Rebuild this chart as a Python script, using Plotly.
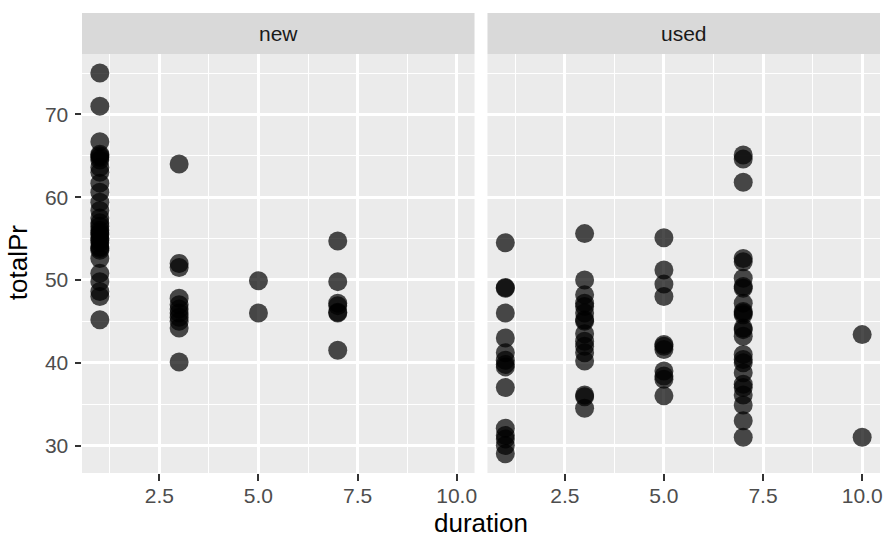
import plotly.graph_objects as go

# ---- data ----
conditions = ["new", "used"]
durations = [1, 3, 5, 7, 10]

new_d1 = [75.0, 71.0, 66.7, 65.2, 65.0, 64.8, 64.5, 63.6, 63.0, 61.7, 60.6, 59.4, 58.4,
          57.5, 56.9, 56.5, 56.0, 55.7, 55.5, 55.0, 54.8, 54.5, 54.0, 53.8, 53.6, 52.6,
          50.8, 49.8, 48.6, 48.0, 45.2]
new_d3 = [64.0, 52.0, 51.5, 47.8, 47.0, 46.5, 46.0, 45.5, 45.0, 44.2, 40.1]
new_d5 = [49.9, 46.0]
new_d7 = [54.7, 49.8, 47.2, 46.9, 46.1, 46.0, 41.5]
new_d10 = []

used_d1 = [54.5, 49.0, 49.1, 46.0, 43.0, 41.2, 40.3, 39.8, 39.5, 37.0, 32.1, 31.2, 30.8,
           30.0, 29.0]
used_d3 = [55.6, 50.0, 48.2, 47.2, 46.8, 46.0, 45.2, 45.0, 43.5, 42.6, 42.0, 41.2, 40.2,
           36.1, 35.9, 34.5]
used_d5 = [55.1, 51.2, 49.5, 48.0, 42.2, 42.0, 41.6, 39.0, 38.4, 38.0, 36.0]
used_d7 = [65.1, 64.6, 61.8, 52.6, 52.2, 50.2, 49.2, 49.0, 47.2, 46.2, 46.0, 45.8, 44.2,
           44.0, 43.2, 41.0, 40.4, 40.0, 38.8, 37.4, 37.0, 36.1, 34.9, 33.0, 31.0]
used_d10 = [43.4, 31.0]

x_ticks = [2.5, 5.0, 7.5, 10.0]
x_tick_labels = ["2.5", "5.0", "7.5", "10.0"]
y_ticks = [30, 40, 50, 60, 70]

groups = {
    "new": [new_d1, new_d3, new_d5, new_d7, new_d10],
    "used": [used_d1, used_d3, used_d5, used_d7, used_d10],
}

# ---- figure ----
W, H = 886, 537
ml, mt, mb = 82, 54, 64
panel_w = 394
gap = 13
mr = W - ml - 2 * panel_w - gap
pw = W - ml - mr
ph = H - mt - mb
d1 = [0, panel_w / pw]
d2 = [(panel_w + gap) / pw, 1]
FONT = "Liberation Sans, Arial, sans-serif"

fig = go.Figure()
for i, cond in enumerate(conditions):
    xs, ys = [], []
    for d, vals in zip(durations, groups[cond]):
        xs += [d] * len(vals)
        ys += vals
    fig.add_trace(go.Scatter(
        x=xs, y=ys, mode="markers",
        xaxis="x" if i == 0 else "x2", yaxis="y" if i == 0 else "y2",
        marker=dict(color="black", opacity=0.7, size=19, line=dict(width=0)),
        showlegend=False, hoverinfo="x+y",
    ))

tickfont = dict(family=FONT, size=21, color="#4D4D4D")
xr = [0.55, 10.45]
yr = [26.68, 77.3]
common_x = dict(range=xr, tickvals=x_ticks, ticktext=x_tick_labels, showgrid=True,
                gridcolor="white", gridwidth=2.7, zeroline=False, ticks="outside",
                ticklen=6.5, tickcolor="#333333", tickwidth=2, tickfont=tickfont,
                showline=False, ticklabelstandoff=-3,
                minor=dict(tickvals=[1.25, 3.75, 6.25, 8.75], showgrid=True,
                           gridcolor="white", gridwidth=1.4, ticks=""))
common_y = dict(range=yr, tickvals=y_ticks, showgrid=True, gridcolor="white",
                gridwidth=2.7, zeroline=False, ticklen=6.5,
                tickcolor="#333333", tickwidth=2, tickfont=tickfont, showline=False,
                minor=dict(tickvals=[35, 45, 55, 65, 75], showgrid=True,
                           gridcolor="white", gridwidth=1.4, ticks=""))

fig.update_layout(
    width=W, height=H,
    margin=dict(l=ml, r=mr, t=mt, b=mb, pad=0),
    paper_bgcolor="white", plot_bgcolor="#EBEBEB",
    xaxis=dict(domain=d1, anchor="y", **common_x),
    xaxis2=dict(domain=d2, anchor="y2", **common_x),
    yaxis=dict(domain=[0, 1], anchor="x", ticks="outside", ticklabelstandoff=2, **common_y),
    yaxis2=dict(domain=[0, 1], anchor="x2", matches="y", showticklabels=False,
                ticks="", **common_y),
    font=dict(family=FONT),
)

strip_top = 1 + 41 / ph
for dom, label in zip([d1, d2], conditions):
    fig.add_shape(type="rect", xref="paper", yref="paper", x0=dom[0], x1=dom[1],
                  y0=1, y1=strip_top, fillcolor="#D9D9D9", line=dict(width=0), layer="below")
    fig.add_annotation(text=label, xref="paper", yref="paper", x=(dom[0] + dom[1]) / 2,
                       y=(1 + strip_top) / 2, showarrow=False, xanchor="center",
                       yanchor="middle",
                       font=dict(family=FONT, size=21, color="#1A1A1A"))

fig.add_annotation(text="duration", xref="paper", yref="paper", x=(483 - ml) / pw,
                   y=-(523 - (H - mb)) / ph, showarrow=False, xanchor="center",
                   yanchor="middle", font=dict(family=FONT, size=26, color="black"))
fig.add_annotation(text="totalPr", xref="paper", yref="paper", x=(18 - ml) / pw,
                   y=1 - (263 - mt) / ph, showarrow=False, textangle=-90,
                   xanchor="center", yanchor="middle",
                   font=dict(family=FONT, size=26, color="black"))

fig.write_html("out.html")
